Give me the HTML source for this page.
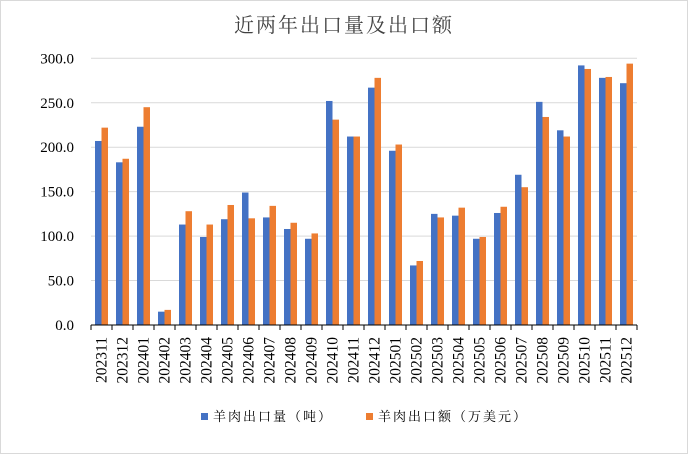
<!DOCTYPE html>
<html><head><meta charset="utf-8"><style>body{margin:0;background:#fff}svg text{font-family:"Liberation Serif","Noto Serif CJK SC",serif}</style></head>
<body><svg width="688" height="454" xmlns="http://www.w3.org/2000/svg">
<rect x="0.5" y="0.5" width="687" height="453" fill="#fff" stroke="#d9d9d9"/>
<text x="344" y="32" font-size="20" text-anchor="middle" fill="#404040" font-family="Noto Sans CJK SC,sans-serif" letter-spacing="2">近两年出口量及出口额</text>
<g id="g"></g>
</svg>
<script>
const b=[207,183,223,15,113,99,119,149,121,108,97,252,212,267,196,67,125,123,97,126,169,251,219,292,278,272];
const o=[222,187,245,17,128,113,135,120,134,115,103,231,212,278,203,72,121,132,99,133,155,234,212,288,279,294];
const L=["202311","202312","202401","202402","202403","202404","202405","202406","202407","202408","202409","202410","202411","202412","202501","202502","202503","202504","202505","202506","202507","202508","202509","202510","202511","202512"];
let s="";const y0=325,k=266.7/300;
for(let i=0;i<=6;i++){const y=y0-i*50*k;if(i>0)s+=`<line x1="91" x2="637" y1="${y}" y2="${y}" stroke="#d9d9d9"/>`;s+=`<text x="74" y="${y+5}" font-size="15" text-anchor="end" fill="#000">${(i*50).toFixed(1)}</text>`;}
for(let i=0;i<26;i++){const x=91+i*21;
s+=`<rect x="${x+4}" y="${y0-b[i]*k}" width="6.5" height="${b[i]*k}" fill="#4472c4"/>`;
s+=`<rect x="${x+10.5}" y="${y0-o[i]*k}" width="6.5" height="${o[i]*k}" fill="#ed7d31"/>`;
s+=`<line x1="${x}" x2="${x}" y1="${y0}" y2="${y0+5}" stroke="#000"/>`;
s+=`<text transform="translate(${x+15.5},${337}) rotate(-90)" font-size="15.5" text-anchor="end" fill="#000">${L[i]}</text>`;}
s+=`<line x1="637" x2="637" y1="${y0}" y2="${y0+5}" stroke="#000"/><line x1="91" x2="637" y1="${y0}" y2="${y0}" stroke="#000"/>`;
s+=`<rect x="201" y="413" width="7" height="7" fill="#4472c4"/><text x="213" y="421" font-size="13" fill="#000" font-family="Noto Sans CJK SC,sans-serif" letter-spacing="2">羊肉出口量（吨）</text>`;
s+=`<rect x="366" y="413" width="7" height="7" fill="#ed7d31"/><text x="378" y="421" font-size="13" fill="#000" font-family="Noto Sans CJK SC,sans-serif" letter-spacing="2">羊肉出口额（万美元）</text>`;
document.getElementById("g").innerHTML=s;
</script></body></html>
